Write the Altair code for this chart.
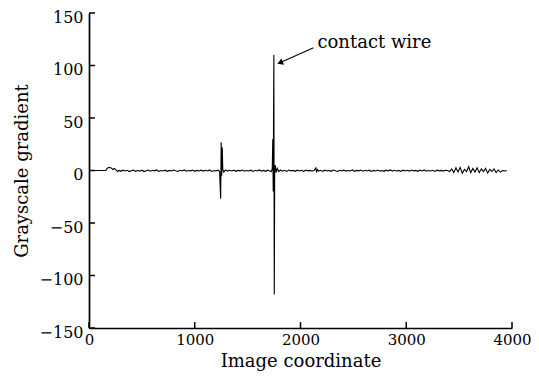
import altair as alt
import pandas as pd

# (image coordinate, grayscale gradient)
points = [
    (0, 0), (160, 0), (170, 2), (190, 3), (210, 2.5), (225, 1), (240, 2), (255, 0.5), (270, -1), (285, 0),
    (300, -0.8), (320, 0.3), (340, -0.5), (360, 0.2), (380, -1), (400, -0.3), (420, 0.4), (440, -0.8),
    (460, 0), (480, -0.6), (500, 0.3), (520, -1), (540, -0.2), (560, 0.4), (580, -0.7), (600, 0.2),
    (620, -0.3), (640, 0.5), (660, -0.9), (680, 0), (700, -0.4), (720, 0.3), (740, -0.8), (760, 0.1),
    (780, -0.5), (800, 0.4), (820, -0.2), (840, -0.9), (860, 0.2), (880, -0.4), (900, 0.5), (920, -0.7),
    (940, 0), (960, -0.3), (980, 0.4), (1000, -0.8), (1020, 0.1), (1040, -0.5), (1060, 0.3), (1080, -0.6),
    (1100, 0.2), (1120, -0.4), (1140, 0.5), (1160, -0.9), (1180, 0), (1200, -0.5), (1220, 0.3), (1235, -1),
    (1245, -27), (1250, 27), (1255, -5), (1260, 22), (1265, 1), (1275, -1.5), (1290, 0.5), (1310, -0.6),
    (1330, 0.2), (1350, -0.4), (1370, 0.3), (1390, -0.8), (1410, 0.1), (1430, -0.3), (1450, 0.4),
    (1470, -0.7), (1490, 0), (1510, -0.5), (1530, 0.3), (1550, -0.9), (1570, 0.2), (1590, -0.4),
    (1610, 0.5), (1630, -0.6), (1650, 0.1), (1670, -0.8), (1690, 0.3), (1710, -0.4), (1725, -1),
    (1733, 2), (1738, 30), (1742, -20), (1748, 110), (1752, -118), (1756, 3), (1762, 5), (1770, -2),
    (1780, 2), (1795, -1), (1810, 0.5), (1830, -0.7), (1850, 0.2), (1870, -0.9), (1890, 0.4), (1910, -0.3),
    (1930, 0.1), (1950, -0.8), (1970, 0.3), (1990, -0.5), (2010, 0.2), (2030, -1), (2050, 0.4),
    (2070, -0.3), (2090, 0.1), (2110, -0.7), (2130, 0.3), (2145, 2.5), (2152, -1.8), (2160, 1),
    (2170, -0.5), (2190, 0.2), (2210, -0.9), (2230, 0.3), (2250, -0.4), (2270, 0.1), (2290, -0.8),
    (2310, 0.4), (2330, -0.2), (2350, -0.9), (2370, 0.2), (2390, -0.5), (2410, 0.3), (2430, -0.6),
    (2450, 0), (2470, -0.4), (2490, 0.5), (2510, -0.8), (2530, 0.1), (2550, -0.3), (2570, 0.4),
    (2590, -0.7), (2610, 0.2), (2630, -0.5), (2650, 0.3), (2670, -0.9), (2690, 0.1), (2710, -0.4),
    (2730, 0.4), (2750, -0.6), (2770, 0), (2790, -0.8), (2810, 0.3), (2830, -0.3), (2850, 0.5),
    (2870, -0.7), (2890, 0.2), (2910, -0.4), (2930, 0.1), (2950, -0.9), (2970, 0.3), (2990, -0.5),
    (3010, 0.2), (3030, -0.6), (3050, 0.4), (3070, -0.3), (3090, 0.1), (3110, -0.8), (3130, 0.3),
    (3150, -0.4), (3170, 0.5), (3190, -0.7), (3210, 0), (3230, -0.5), (3250, 0.2), (3270, -0.9),
    (3290, 0.3), (3310, -0.3), (3330, 0.1), (3350, -0.6), (3370, 0.2), (3390, 0), (3410, -1),
    (3430, 1.5), (3450, -2), (3470, 2.5), (3490, -1.5), (3510, 3), (3530, -2.5), (3550, 1), (3570, -1),
    (3590, 3.5), (3610, -2), (3630, 2), (3650, -1.5), (3670, 2.5), (3690, -2), (3710, 1.5), (3730, -1),
    (3750, 2), (3770, -2.5), (3790, 1), (3810, -1), (3830, 1.5), (3850, -2), (3870, 0.5), (3890, -1.5),
    (3910, 0), (3930, -0.5), (3950, 0),
]

x_ticks = [0, 1000, 2000, 3000, 4000]
y_ticks = [-150, -100, -50, 0, 50, 100, 150]

annot_text = ["contact wire"]
annot_x = [2160]
annot_y = [121]
arrow_tail = [2123, 117]
arrow_tip = [1815, 103]

FONT = "DejaVu Serif"
W, H = 423, 315

df = pd.DataFrame(points, columns=["x", "y"])
xscale = alt.Scale(domain=[0, 4000], nice=False, zero=False)
yscale = alt.Scale(domain=[-150, 150], nice=False, zero=False)

line = alt.Chart(df).mark_line(color="black", strokeWidth=1.1, clip=True).encode(
    x=alt.X("x:Q", scale=xscale,
            axis=alt.Axis(title="Image coordinate", values=x_ticks, ticks=False, grid=False, format="d",
                          domainColor="black", domainWidth=1.7, labelColor="black",
                          labelFont=FONT, labelFontSize=15, labelPadding=4,
                          titleFont=FONT, titleFontSize=18, titleFontWeight="normal",
                          titleColor="black", titlePadding=5, labelFlush=False)),
    y=alt.Y("y:Q", scale=yscale,
            axis=alt.Axis(title="Grayscale gradient", values=y_ticks, ticks=False, grid=False, format="d",
                          domainColor="black", domainWidth=1.7, labelColor="black",
                          labelFont=FONT, labelFontSize=16, labelPadding=6, labelOffset=4,
                          titleFont=FONT, titleFontSize=18, titleFontWeight="normal",
                          titleColor="black", titlePadding=8, labelFlush=False)),
)

yt = alt.Chart(pd.DataFrame({"v": y_ticks})).mark_rule(color="black", strokeWidth=1.5).encode(
    y=alt.Y("v:Q", scale=yscale), x=alt.value(0), x2=alt.value(6))
xt = alt.Chart(pd.DataFrame({"v": x_ticks})).mark_rule(color="black", strokeWidth=1.5).encode(
    x=alt.X("v:Q", scale=xscale), y=alt.value(H), y2=alt.value(H - 6))

arrow_df = pd.DataFrame({"x": [arrow_tail[0]], "y": [arrow_tail[1]],
                         "x2": [arrow_tip[0]], "y2": [arrow_tip[1]]})
arrow = alt.Chart(arrow_df).mark_rule(color="black", strokeWidth=1.1).encode(
    x=alt.X("x:Q", scale=xscale), y=alt.Y("y:Q", scale=yscale), x2="x2:Q", y2="y2:Q")
head = alt.Chart(pd.DataFrame({"x": [arrow_tip[0]], "y": [arrow_tip[1]]})).mark_point(
    shape="triangle", filled=True, color="black", size=45, angle=248, opacity=1).encode(
    x=alt.X("x:Q", scale=xscale), y=alt.Y("y:Q", scale=yscale))

label = alt.Chart(pd.DataFrame({"t": annot_text, "x": annot_x, "y": annot_y})).mark_text(
    font=FONT, fontSize=18, align="left", baseline="middle", color="black").encode(
    x=alt.X("x:Q", scale=xscale), y=alt.Y("y:Q", scale=yscale), text="t:N")

chart = alt.layer(line, yt, xt, arrow, head, label).properties(
    width=W, height=H,
    background="white",
    autosize=alt.AutoSizeParams(type="none"),
    padding={"left": 81, "top": 5, "right": 19, "bottom": 46},
).configure_view(stroke=None)

chart.save("out.html", embed_options={"renderer": "svg", "actions": False})
